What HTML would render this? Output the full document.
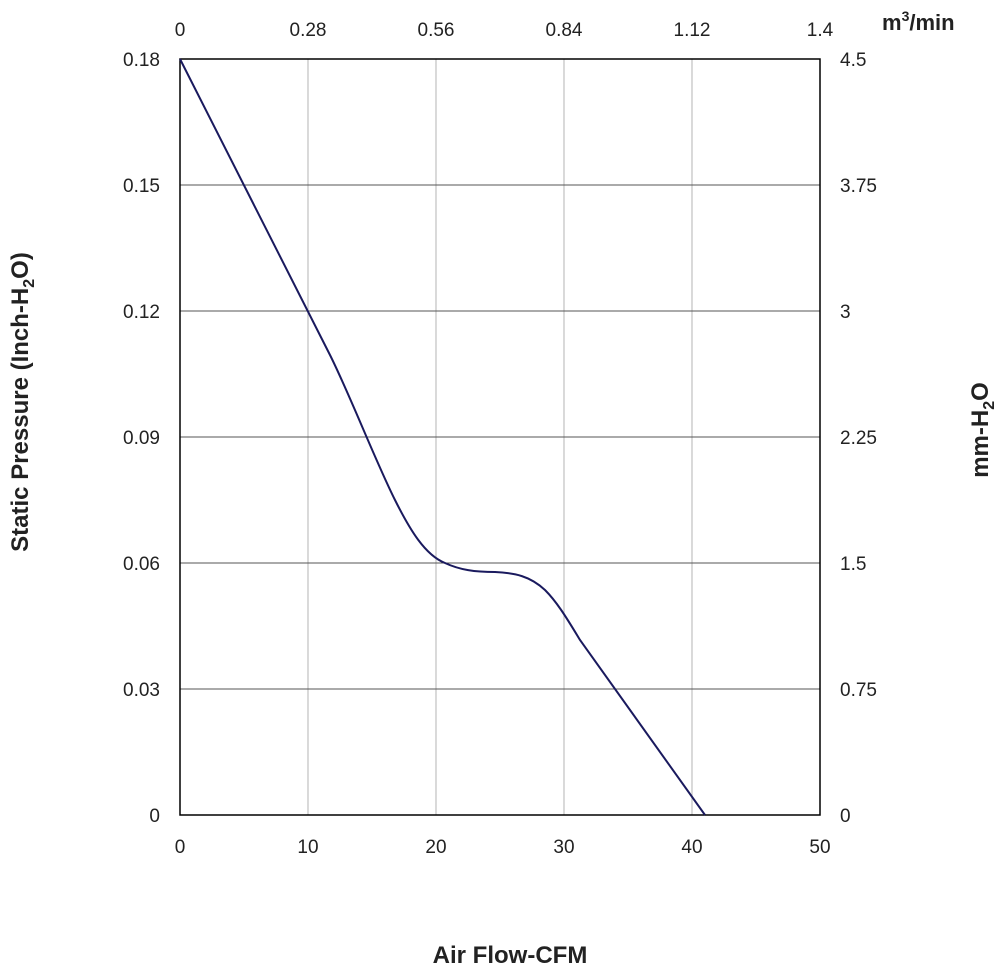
<!DOCTYPE html>
<html><head><style>
body{margin:0;background:#fff;}
svg text{font-family:"Liberation Sans",Arial,sans-serif;fill:#222;}
</style></head><body>
<svg width="1000" height="971" viewBox="0 0 1000 971" xmlns="http://www.w3.org/2000/svg">
<g stroke="#c0c0c0" stroke-width="1.2">
<line x1="308" y1="59" x2="308" y2="815"/><line x1="436" y1="59" x2="436" y2="815"/>
<line x1="564" y1="59" x2="564" y2="815"/><line x1="692" y1="59" x2="692" y2="815"/>
</g>
<g stroke="#555" stroke-width="1">
<line x1="180" y1="185" x2="820" y2="185"/><line x1="180" y1="311" x2="820" y2="311"/>
<line x1="180" y1="437" x2="820" y2="437"/><line x1="180" y1="563" x2="820" y2="563"/>
<line x1="180" y1="689" x2="820" y2="689"/>
</g>
<rect x="180" y="59" width="640" height="756" fill="none" stroke="#000" stroke-width="1.5"/>
<path d="M180,59 L330,355 C350,395 375,460 395,500 C410,530 425,555 445,563 C460,570 475,572 495,572 C515,573 530,576 545,590 C556,601 565,615 580,640 L705,815" fill="none" stroke="#1a1a5e" stroke-width="2"/>
<g font-size="19" text-anchor="end">
<text x="160" y="66">0.18</text><text x="160" y="192">0.15</text><text x="160" y="318">0.12</text>
<text x="160" y="444">0.09</text><text x="160" y="570">0.06</text><text x="160" y="696">0.03</text>
<text x="160" y="822">0</text>
</g>
<g font-size="19" text-anchor="start">
<text x="840" y="66">4.5</text><text x="840" y="192">3.75</text><text x="840" y="318">3</text>
<text x="840" y="444">2.25</text><text x="840" y="570">1.5</text><text x="840" y="696">0.75</text>
<text x="840" y="822">0</text>
</g>
<g font-size="19" text-anchor="middle">
<text x="180" y="853">0</text><text x="308" y="853">10</text><text x="436" y="853">20</text>
<text x="564" y="853">30</text><text x="692" y="853">40</text><text x="820" y="853">50</text>
<text x="180" y="36">0</text><text x="308" y="36">0.28</text><text x="436" y="36">0.56</text>
<text x="564" y="36">0.84</text><text x="692" y="36">1.12</text><text x="820" y="36">1.4</text>
</g>
<text x="882" y="30" font-size="22" font-weight="bold">m<tspan font-size="14" dy="-9">3</tspan><tspan dy="9">/min</tspan></text>
<text x="510" y="963" font-size="24" font-weight="bold" text-anchor="middle">Air Flow-CFM</text>
<text transform="translate(28,402) rotate(-90)" font-size="24" font-weight="bold" text-anchor="middle">Static Pressure (Inch-H<tspan font-size="16" dy="6">2</tspan><tspan dy="-6">O)</tspan></text>
<text transform="translate(988,430) rotate(-90)" font-size="24" font-weight="bold" text-anchor="middle">mm-H<tspan font-size="16" dy="6">2</tspan><tspan dy="-6">O</tspan></text>
</svg>
</body></html>
